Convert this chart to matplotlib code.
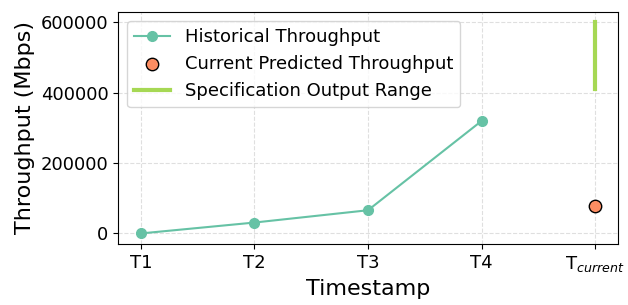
import matplotlib
matplotlib.use('Agg')
from matplotlib import pyplot as plt
import numpy as np

labels = ['T1', 'T2', 'T3', 'T4', 'T$_{current}$']
hist_vals = [0, 31000, 66000, 320000]
current_pred = 79000
spec_range = [410000, 600000]

x = np.arange(len(labels))

fig, ax = plt.subplots(figsize=(6.28, 3.05), dpi=100)
ax.plot(x[:4], hist_vals, '-o', color='#66c2a5', markersize=7, linewidth=1.5,
        label='Historical Throughput')
ax.scatter([x[4]], [current_pred], s=80, color='#fc8d62', edgecolor='black',
           zorder=3, label='Current Predicted Throughput')
ax.plot([x[4], x[4]], spec_range, color='#a6d854', linewidth=3,
        label='Specification Output Range')

ax.set_xticks(x)
ax.set_xticklabels(labels, fontsize=13)
ax.tick_params(axis='y', labelsize=13)
ax.set_xlim(-0.2, 4.2)
ax.set_xlabel('Timestamp', fontsize=16)
ax.set_ylabel('Throughput (Mbps)', fontsize=16)
ax.grid(True, linestyle='--', alpha=0.4)
ax.legend(loc='upper left', fontsize=13)

plt.subplots_adjust(left=0.188, right=0.984, top=0.961, bottom=0.2)
plt.savefig('out.png', dpi=100)
